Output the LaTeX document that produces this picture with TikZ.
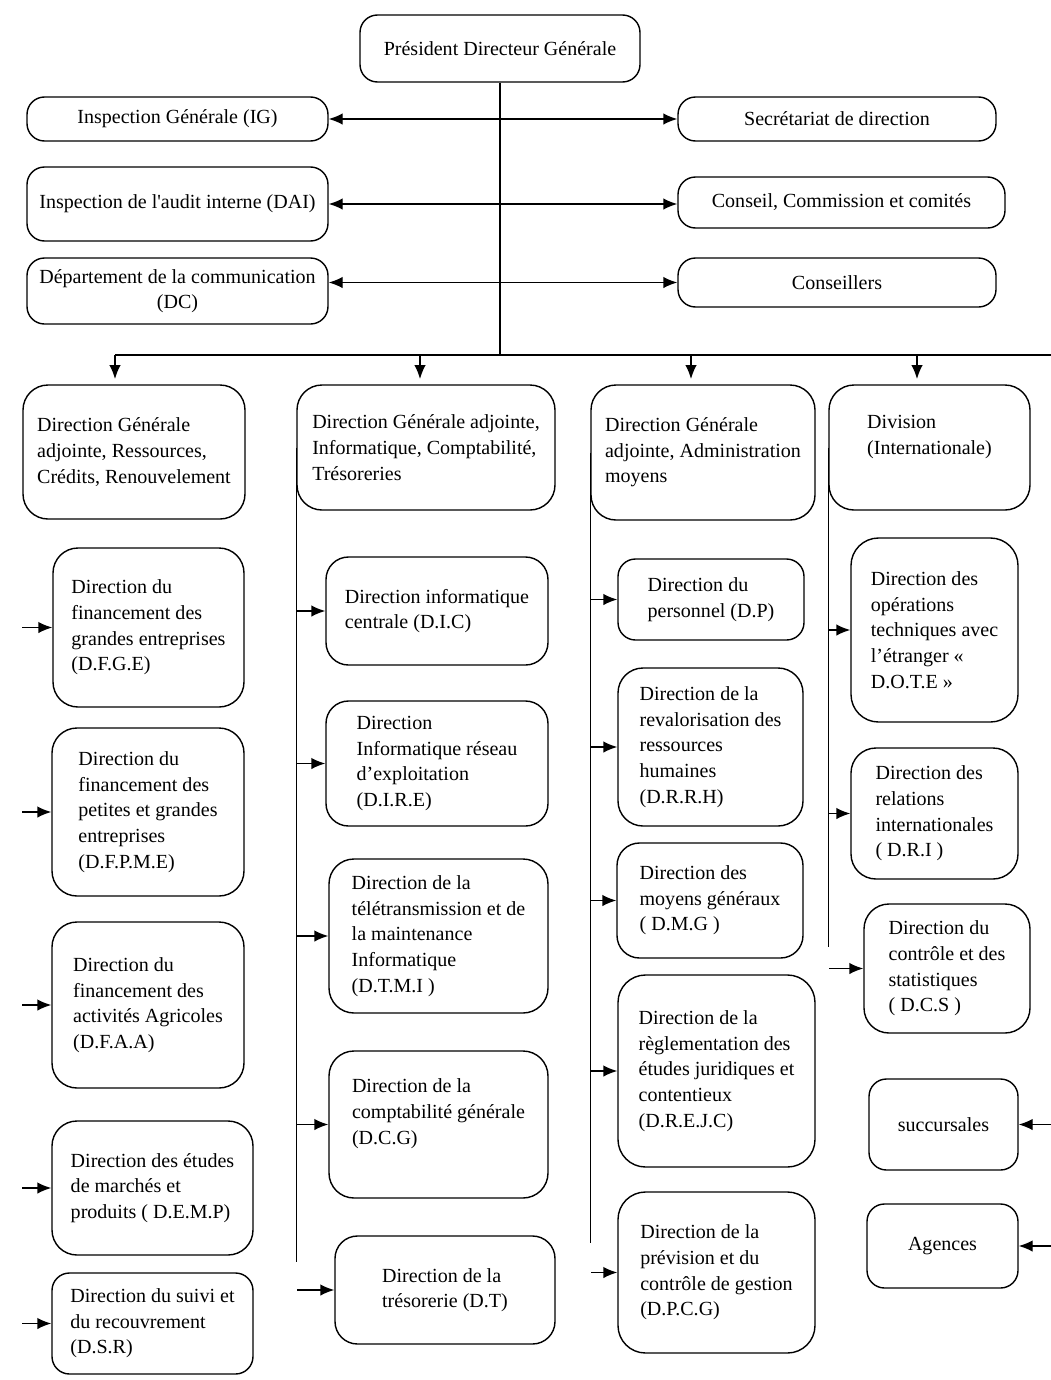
\documentclass[tikz,border=0pt]{standalone}
\usepackage{fontspec}
\setmainfont{Liberation Serif}
\usepackage{tikz}
\usetikzlibrary{arrows.meta}

\tikzset{
  box/.style={shape=rectangle, draw=black, line width=0.8pt, rounded corners=0.35cm,
    align=left, inner sep=2pt, font=\fontsize{11.4}{14.6}\selectfont},
  boxsize/.style 2 args={minimum width=#1*0.02cm, minimum height=#2*0.02cm},
  link/.style={line width=0.8pt, -{Latex[length=2.8mm,width=2.3mm]}},
  linkboth/.style={line width=0.8pt, {Latex[length=2.8mm,width=2.3mm]}-{Latex[length=2.8mm,width=2.3mm]}},
  trunk/.style={line width=0.8pt}
}

\begin{document}
\begin{tikzpicture}[x=0.02cm, y=-0.02cm]
      \useasboundingbox (0,0) rectangle (1051,1380);
      \node (pdg) [box, boxsize={280}{67}] at (500,48.5) {Président Directeur Générale};
      \node (ig) [box, boxsize={301}{44}] at (177.5,119) {Inspection Générale (IG)};
      \node (dai) [box, boxsize={301}{74}] at (177.5,204) {Inspection de l\textquotesingle audit interne (DAI)};
      \node (dc) [box, boxsize={301}{66}, align=center] at (177.5,291) {Département de la communication\\(DC)};
      \node (sec) [box, boxsize={318}{44}] at (837,119) {Secrétariat de direction};
      \node (ccc) [box, boxsize={327}{51}] at (841.5,202.5) {Conseil, Commission et comités};
      \node (cons) [box, boxsize={318}{49}] at (837,282.5) {Conseillers};
      \draw [linkboth] (ig.east) -- (sec.west);
      \draw [linkboth] (dai.east) -- (dai.east -| ccc.west);
      \draw [linkboth] (cons.west -| dc.east) -- (cons.west);

      \coordinate (t1) at (115,355);
      \coordinate (t2) at (420,355);
      \coordinate (t3) at (691,355);
      \coordinate (t4) at (917,355);
      \coordinate (busR) at (1051,355);
      \draw [trunk] (pdg.south) -- (pdg.south |- t1);
      \draw [trunk] (t1) -- (busR);

      \node (dga1) [box, boxsize={222}{134}, rounded corners=0.5cm] at (134,452) {Direction Générale\\adjointe, Ressources,\\Crédits, Renouvelement};
      \node (dga2) [box, boxsize={258}{125}, rounded corners=0.5cm] at (426,447.5) {Direction Générale adjointe,\\Informatique, Comptabilité,\\Trésoreries};
      \node (dga3) [box, boxsize={224}{135}, rounded corners=0.5cm] at (703,452.5) {Direction Générale\\adjointe, Administration\\moyens};
      \node (div) [box, boxsize={201}{125}, rounded corners=0.5cm] at (929.5,447.5) {Division\\(Internationale)\\~};
      \draw [link, shorten >=3pt] (t1) -- (dga1.north -| t1);
      \draw [link, shorten >=3pt] (t2) -- (dga2.north -| t2);
      \draw [link, shorten >=3pt] (t3) -- (dga3.north -| t3);
      \draw [link, shorten >=3pt] (t4) -- (div.north -| t4);

      \node (dfge) [box, boxsize={191}{159}, rounded corners=0.5cm] at (148.5,627.5) {Direction du\\financement des\\grandes entreprises\\(D.F.G.E)};
      \node (dfpme) [box, boxsize={192}{168}, rounded corners=0.5cm] at (148,812) {Direction du\\financement des\\petites et grandes\\entreprises\\(D.F.P.M.E)};
      \node (dfaa) [box, boxsize={192}{166}, rounded corners=0.5cm] at (148,1005) {Direction du\\financement des\\activités Agricoles\\(D.F.A.A)};
      \node (demp) [box, boxsize={201}{134}, rounded corners=0.5cm] at (152.5,1188) {Direction des études\\de marchés et\\produits ( D.E.M.P)};
      \node (dsr) [box, boxsize={201}{101}] at (152.5,1323.5) {Direction du suivi et\\du recouvrement\\(D.S.R)};
      \draw [link] (dfge.west -| dga1.west) -- (dfge.west);
      \draw [link] (dfpme.west -| dga1.west) -- (dfpme.west);
      \draw [link] (dfaa.west -| dga1.west) -- (dfaa.west);
      \draw [link] (demp.west -| dga1.west) -- (demp.west);
      \draw [link] (dsr.west -| dga1.west) -- (dsr.west);

      \coordinate (c2end) at (297,1262);
      \node (dic) [box, boxsize={222}{108}, rounded corners=0.45cm] at (437,611) {Direction informatique\\centrale (D.I.C)};
      \node (dire) [box, boxsize={222}{125}, rounded corners=0.45cm] at (437,763.5) {Direction\\Informatique réseau\\d’exploitation\\(D.I.R.E)};
      \node (dtmi) [box, boxsize={219}{154}, rounded corners=0.5cm] at (438.5,936) {Direction de la\\télétransmission et de\\la maintenance\\Informatique\\(D.T.M.I )};
      \node (dcg) [box, boxsize={219}{147}, rounded corners=0.5cm] at (438.5,1124.5) {Direction de la\\comptabilité générale\\(D.C.G)\\~};
      \node (dt) [box, boxsize={220}{108}, rounded corners=0.45cm] at (445,1290) {Direction de la\\trésorerie (D.T)};
      \draw [trunk] (dga2.west) -- (dga2.west |- c2end);
      \draw [link] (dic.west -| c2end) -- (dic.west);
      \draw [link] (dire.west -| c2end) -- (dire.west);
      \draw [link] (dtmi.west -| c2end) -- (dtmi.west);
      \draw [link] (dcg.west -| c2end) -- (dcg.west);
      \draw [link] (dt.west -| c2end) -- (dt.west);

      \coordinate (c3end) at (591,1243);
      \node (dp) [box, boxsize={186}{81}] at (711,599.5) {Direction du\\personnel (D.P)};
      \node (drrh) [box, boxsize={185}{158}, rounded corners=0.5cm] at (710.5,747) {Direction de la\\revalorisation des\\ressources\\humaines\\(D.R.R.H)};
      \node (dmg) [box, boxsize={186}{115}, rounded corners=0.45cm] at (710,900.5) {Direction des\\moyens généraux\\( D.M.G )};
      \node (drejc) [box, boxsize={197}{192}, rounded corners=0.55cm] at (716.5,1071) {Direction de la\\règlementation des\\études juridiques et\\contentieux\\(D.R.E.J.C)};
      \node (dpcg) [box, boxsize={197}{161}, rounded corners=0.55cm] at (716.5,1272.5) {Direction de la\\prévision et du\\contrôle de gestion\\(D.P.C.G)};
      \draw [trunk] (dga3.west) -- (dga3.west |- c3end);
      \draw [link] (dp.west -| c3end) -- (dp.west);
      \draw [link] (drrh.west -| c3end) -- (drrh.west);
      \draw [link] (dmg.west -| c3end) -- (dmg.west);
      \draw [link] (drejc.west -| c3end) -- (drejc.west);
      \draw [link] (dpcg.west -| c3end) -- (dpcg.west);

      \coordinate (c4end) at (829,947);
      \node (dote) [box, boxsize={167}{184}, rounded corners=0.55cm] at (934.5,630) {Direction des\\opérations\\techniques avec\\l’étranger «\\D.O.T.E »};
      \node (dri) [box, boxsize={167}{131}, rounded corners=0.5cm] at (934.5,813.5) {Direction des\\relations\\internationales\\( D.R.I )};
      \node (dcs) [box, boxsize={166}{129}, rounded corners=0.5cm] at (947,968.5) {Direction du\\contrôle et des\\statistiques\\( D.C.S )};
      \node (succ) [box, boxsize={149}{91}] at (943.5,1124.5) {succursales};
      \node (agen) [box, boxsize={151}{84}] at (942.5,1246) {Agences};
      \draw [trunk] (div.west) -- (div.west |- c4end);
      \draw [link] (dote.west -| c4end) -- (dote.west);
      \draw [link] (dri.west -| c4end) -- (dri.west);
      \draw [link] (dcs.west -| c4end) -- (dcs.west);
      \draw [link] (succ.east -| busR) -- (succ.east);
      \draw [link] (agen.east -| busR) -- (agen.east);
    \end{tikzpicture}
\end{document}
